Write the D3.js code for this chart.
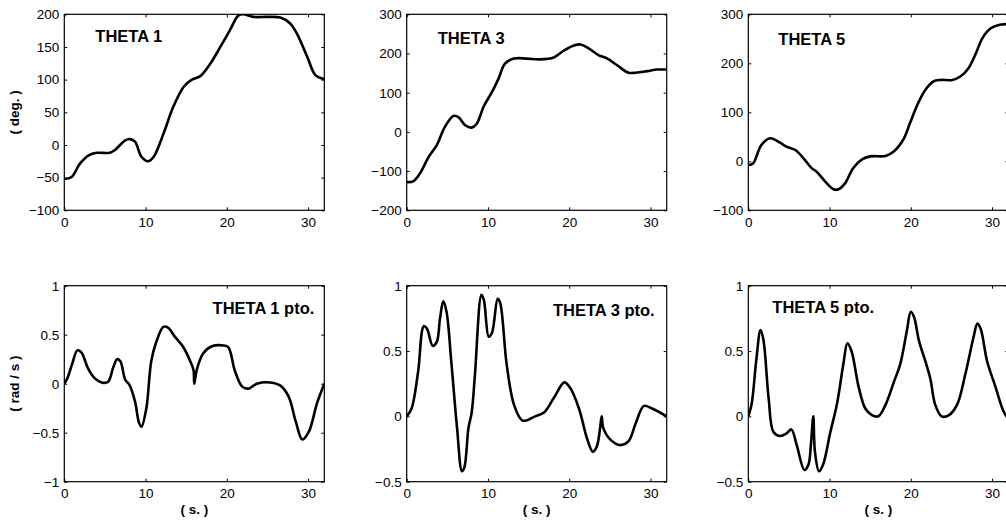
<!DOCTYPE html>
<html><head><meta charset="utf-8">
<script src="https://cdn.jsdelivr.net/npm/d3@7"></script>
<style>
body{margin:0;background:#fff;}
svg{display:block;font-family:"Liberation Sans",Arial,Helvetica,sans-serif;}
</style></head>
<body>
<svg id="c" width="1006" height="525"></svg>
<script>
// ---- data (time in s) ----
const theta1T = [0,0.9,1.9,3,4,5.6,6.2,7.5,8.1,8.7,9.5,10.3,11,12.2,13.4,14.7,15.7,16.7,18,19.2,20.4,21.4,22,23.3,24.9,26.6,27.8,28.6,29.9,30.9,32];
const theta1V = [-52,-49,-29,-16,-12,-12,-8,7,9,5,-18,-25,-18,17,58,89,100,105,125,150,176,198,200,196,196,195,186,171,135,107,101];

const theta3T = [0,0.8,1.6,2.7,3.7,4.7,5.8,6.4,7.2,8,8.6,9.5,10.5,11.3,12.1,13.2,14.8,16.4,18.1,19.3,20.5,21.4,22.4,23.6,24.7,25.9,27.3,28.2,29.6,30.8,32];
const theta3V = [-128,-126,-107,-64,-34,13,41,37,17,11,20,66,102,136,174,187,187,185,190,207,220,223,213,196,187,170,151,151,155,159,159];

const theta5T = [0,0.6,1.6,2.7,3.9,4.7,5.8,6.8,7.8,8.4,9.5,10.5,11.1,11.9,12.9,14,15,16.9,17.9,19.1,19.9,20.8,21.8,22.8,23.6,25.1,26.1,27.1,28,28.8,29.8,30.8,31.8,32];
const theta5V = [-8,-4,33,47,38,30,23,6,-14,-21,-42,-57,-57,-45,-14,4,10,11,20,45,78,115,146,163,166,166,173,190,220,251,271,278,280,280];

const theta1dT = [0,0.4,1.0,1.6,2.1,2.9,3.7,4.7,5.4,6.0,6.5,6.9,7.5,8.0,8.7,9.2,9.5,10.1,10.7,11.3,12.2,12.8,13.6,14.6,15.5,15.9,16.0,16.3,17.1,18.1,19.6,20.2,21.0,21.9,22.7,23.7,25.6,26.6,27.6,28.5,29.3,30.1,31.1,32];
const theta1dV = [0,0.06,0.21,0.34,0.32,0.16,0.06,0.01,0.02,0.16,0.25,0.23,0.04,-0.01,-0.18,-0.40,-0.44,-0.25,0.23,0.42,0.58,0.57,0.48,0.38,0.23,0.14,0.0,0.14,0.31,0.38,0.39,0.37,0.13,-0.03,-0.05,0.0,0.01,-0.02,-0.13,-0.39,-0.57,-0.49,-0.20,0.0];

const theta3dT = [0,0.6,1.4,2.1,2.5,3.2,3.7,4.1,4.5,4.9,5.5,6.2,6.8,7.1,7.6,8.0,8.4,9.2,9.5,10.1,10.5,11.2,11.5,12.3,13.2,14.2,14.8,15.8,16.9,18.1,19.4,20.1,21.2,22.2,22.9,23.4,23.8,24.0,24.2,25.1,26.3,27.3,28.2,29.2,30.2,32];
const theta3dV = [0,0.06,0.34,0.69,0.67,0.54,0.57,0.75,0.88,0.80,0.41,-0.09,-0.42,-0.39,-0.09,0.03,0.32,0.93,0.89,0.61,0.64,0.90,0.87,0.40,0.09,-0.03,-0.03,0.0,0.03,0.14,0.26,0.22,0.06,-0.17,-0.27,-0.23,-0.09,0.0,-0.09,-0.18,-0.22,-0.19,-0.05,0.08,0.06,0.0];

const theta5dT = [0,0.4,1.0,1.5,1.85,2.5,3.1,3.9,4.7,5.3,5.96,6.9,7.4,7.7,8.0,8.2,8.7,9.2,10.1,10.9,11.7,12.2,12.7,13.6,14.4,15.2,16.0,16.9,17.9,18.7,19.5,20.0,20.4,21.0,21.8,22.4,23.0,23.8,24.7,25.7,26.7,27.7,28.2,28.6,29.4,30.4,31.4,31.8,32];
const theta5dV = [0,0.09,0.44,0.66,0.59,0.14,-0.12,-0.15,-0.13,-0.10,-0.22,-0.41,-0.37,-0.22,0.0,-0.27,-0.42,-0.37,-0.12,0.09,0.40,0.56,0.50,0.22,0.06,0.01,0.0,0.09,0.26,0.40,0.65,0.80,0.76,0.58,0.42,0.29,0.09,0.0,0.01,0.09,0.32,0.60,0.71,0.67,0.42,0.23,0.04,0.0,-0.01];

const xTicks = [0,10,20,30];
const yTicksTop1 = [-100,-50,0,50,100,150,200];
const yTicksTop2 = [-200,-100,0,100,200,300];
const yTicksTop3 = [-100,0,100,200,300];
const yTicksBot1 = [-1,-0.5,0,0.5,1];
const yTicksBot2 = [-0.5,0,0.5,1];

const titles = ["THETA 1","THETA 3","THETA 5","THETA 1 pto.","THETA 3 pto.","THETA 5 pto."];
const yLabels = ["( deg. )","( rad / s )"];
const xLabel = "( s. )";

// ---- layout ----
const svg = d3.select("#c");
const lefts = [64.3, 406.7, 748.3];
const tops = [14.3, 285.7];
const W = 260, H = 196;

const panels = [
  {t:theta1T, v:theta1V, dom:[-100,200], ticks:yTicksTop1, col:0, row:0, tx:31, ty:28, anchor:"start"},
  {t:theta3T, v:theta3V, dom:[-200,300], ticks:yTicksTop2, col:1, row:0, tx:31, ty:30, anchor:"start"},
  {t:theta5T, v:theta5V, dom:[-100,300], ticks:yTicksTop3, col:2, row:0, tx:30, ty:31, anchor:"start"},
  {t:theta1dT, v:theta1dV, dom:[-1,1], ticks:yTicksBot1, col:0, row:1, tx:250, ty:28, anchor:"end"},
  {t:theta3dT, v:theta3dV, dom:[-0.5,1], ticks:yTicksBot2, col:1, row:1, tx:248, ty:30, anchor:"end"},
  {t:theta5dT, v:theta5dV, dom:[-0.5,1], ticks:yTicksBot2, col:2, row:1, tx:24, ty:27, anchor:"start"}
];

panels.forEach((p,i)=>{
  const x0 = lefts[p.col], y0 = tops[p.row];
  const g = svg.append("g").attr("transform",`translate(${x0},${y0})`);
  const x = d3.scaleLinear().domain([0,32]).range([0,W]);
  const y = d3.scaleLinear().domain(p.dom).range([H,0]);
  const fmt = d3.format("");

  g.append("clipPath").attr("id","cp"+i).append("rect").attr("width",W).attr("height",H);

  const line = d3.line().x((d,j)=>x(p.t[j])).y(d=>y(d)).curve(d3.curveCatmullRom.alpha(0.5));
  g.append("path").attr("d",line(p.v)).attr("fill","none").attr("stroke","#000")
    .attr("stroke-width",2.6).attr("stroke-linejoin","round").attr("clip-path",`url(#cp${i})`);

  const ax = g.append("g").attr("transform",`translate(0,${H})`)
    .call(d3.axisBottom(x).tickValues(xTicks).tickFormat(fmt).tickSizeInner(-3).tickSizeOuter(0).tickPadding(7));
  const ay = g.append("g")
    .call(d3.axisLeft(y).tickValues(p.ticks).tickFormat(fmt).tickSizeInner(-3).tickSizeOuter(0).tickPadding(5));
  const axt = g.append("g")
    .call(d3.axisTop(x).tickValues(xTicks).tickFormat("").tickSizeInner(-3).tickSizeOuter(0));
  const ayr = g.append("g").attr("transform",`translate(${W},0)`)
    .call(d3.axisRight(y).tickValues(p.ticks).tickFormat("").tickSizeInner(-3).tickSizeOuter(0));
  [ax,ay,axt,ayr].forEach(a=>{
    a.select(".domain").remove();
    a.selectAll("line").attr("stroke","#000").attr("stroke-width",1);
    a.selectAll("text").attr("fill","#000").style("font-size","13.5px").style("font-family","'Liberation Sans',Arial,sans-serif");
  });
  ax.selectAll("text").attr("dy","0.71em");

  g.append("rect").attr("width",W).attr("height",H).attr("fill","none").attr("stroke","#000").attr("stroke-width",1.2);

  g.append("text").text(titles[i]).attr("x",p.tx).attr("y",p.ty).attr("text-anchor",p.anchor)
    .style("font-weight","bold").style("font-size","16.5px").attr("fill","#000");

  if (p.col===0){
    g.append("text").text(yLabels[p.row]).attr("transform",`translate(${-49},${H/2}) rotate(-90)`)
      .attr("text-anchor","middle").attr("dominant-baseline","middle")
      .style("font-weight","bold").style("font-size","13.5px");
  }
  if (p.row===1){
    g.append("text").text(xLabel).attr("x",W/2).attr("y",H+29)
      .attr("text-anchor","middle").attr("dominant-baseline","middle")
      .style("font-weight","bold").style("font-size","13.5px");
  }
});
</script>
</body></html>
